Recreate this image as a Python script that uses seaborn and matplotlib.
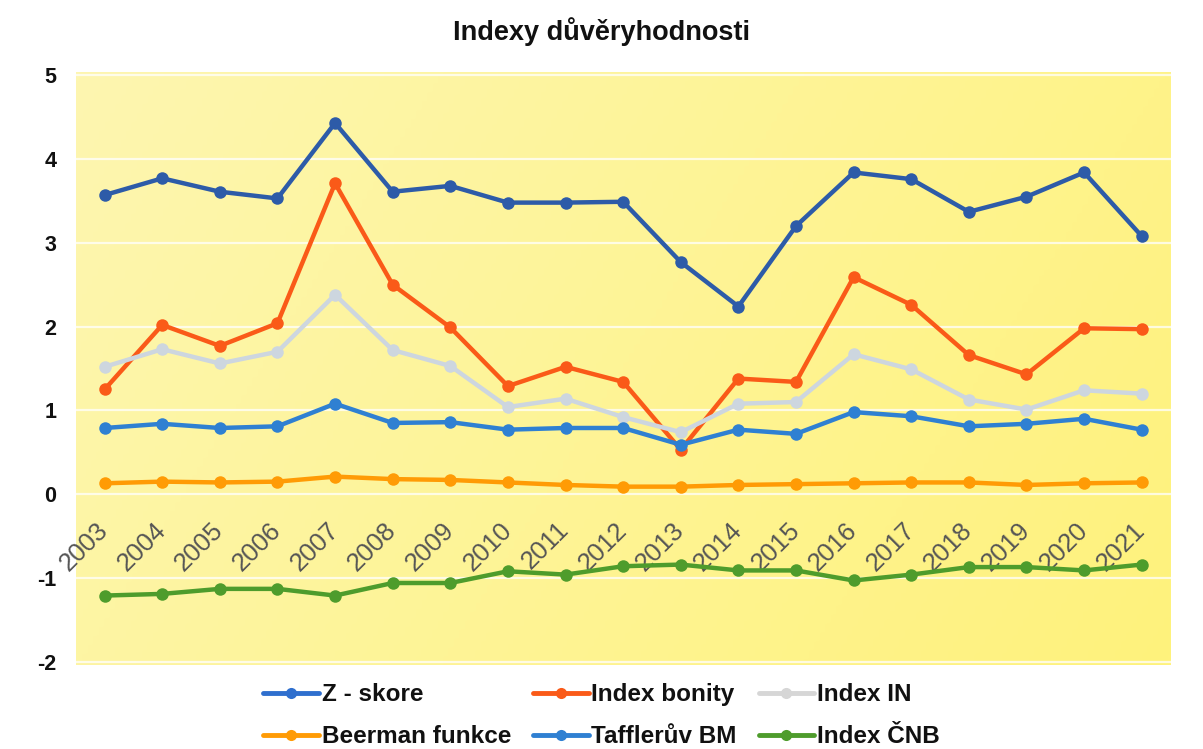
import numpy as np
import pandas as pd
import matplotlib
matplotlib.use("Agg")
import matplotlib.pyplot as plt
import seaborn as sns
from matplotlib.colors import LinearSegmentedColormap
from matplotlib.lines import Line2D

years = list(range(2003, 2022))
z_skore = [3.57, 3.77, 3.61, 3.53, 4.43, 3.61, 3.68, 3.48, 3.48, 3.49, 2.77, 2.24, 3.20, 3.84, 3.76, 3.37, 3.55, 3.84, 3.08]
index_bonity = [1.25, 2.02, 1.77, 2.04, 3.71, 2.50, 1.99, 1.29, 1.52, 1.34, 0.53, 1.38, 1.34, 2.59, 2.26, 1.66, 1.43, 1.98, 1.97]
index_in = [1.52, 1.73, 1.56, 1.70, 2.38, 1.72, 1.53, 1.04, 1.14, 0.92, 0.74, 1.08, 1.10, 1.67, 1.49, 1.13, 1.01, 1.24, 1.20]
beerman = [0.13, 0.15, 0.14, 0.15, 0.21, 0.18, 0.17, 0.14, 0.11, 0.09, 0.09, 0.11, 0.12, 0.13, 0.14, 0.14, 0.11, 0.13, 0.14]
taffler = [0.79, 0.84, 0.79, 0.81, 1.08, 0.85, 0.86, 0.77, 0.79, 0.79, 0.59, 0.77, 0.72, 0.98, 0.93, 0.81, 0.84, 0.90, 0.77]
index_cnb = [-1.21, -1.19, -1.13, -1.13, -1.21, -1.06, -1.06, -0.92, -0.96, -0.86, -0.84, -0.91, -0.91, -1.03, -0.96, -0.87, -0.87, -0.91, -0.84]

series_names = ["Z - skore", "Index bonity", "Index IN", "Beerman funkce", "Tafflerův BM", "Index ČNB"]
series_values = [z_skore, index_bonity, index_in, beerman, taffler, index_cnb]
line_colors = ["#2d5ba8", "#fa5a18", "#cdd6df", "#ff9b05", "#2f80d2", "#4e9c2c"]
legend_colors = ["#2f6fce", "#fa5a18", "#d6d6d6", "#ff9b05", "#2f80d2", "#4e9c2c"]

df = pd.DataFrame({
    "Rok": np.tile(years, len(series_names)),
    "Hodnota": np.concatenate(series_values),
    "Index": np.repeat(series_names, len(years)),
})

sns.set_theme(style="white")
plt.rcParams['font.family'] = ['Liberation Sans', 'DejaVu Sans']

fig = plt.figure(figsize=(12.03, 7.49), dpi=100)
ax = fig.add_axes([0.063, 0.112, 0.91, 0.792])

# yellow gradient background
cmap = LinearSegmentedColormap.from_list("yel", ["#fdf6b0", "#fff27c"])
gx, gy = np.meshgrid(np.linspace(0, 1, 200), np.linspace(0, 1, 200))
grad = 0.75 * gx + 0.25 * (1 - gy)
ax.imshow(grad, cmap=cmap, extent=[0, 1, 0, 1], transform=ax.transAxes,
          aspect="auto", zorder=0, origin="lower")

for v in range(-2, 6):
    ax.axhline(v, color="white", lw=1.6, alpha=0.75, zorder=1)

sns.lineplot(data=df, x="Rok", y="Hodnota", hue="Index", hue_order=series_names,
             palette=dict(zip(series_names, line_colors)), marker="o", markersize=9,
             markeredgewidth=0, linewidth=3.2, ax=ax, legend=False, zorder=3)

ax.spines['bottom'].set_position(('data', 0))
for s in ax.spines.values():
    s.set_visible(False)

ax.set_xlim(2002.5, 2021.5)
ax.set_ylim(-2.04, 5.04)
ax.set_yticks(range(-2, 6))
ax.set_yticklabels([str(v) for v in range(-2, 6)], fontsize=15.5, fontweight="bold", color="#111111")
ax.tick_params(axis="y", length=0, pad=14)
ax.set_xticks(years)
ax.set_xticklabels([str(y) for y in years], rotation=45, ha="right", va="center",
                   rotation_mode="anchor", fontsize=18.5, color="#555555")
ax.tick_params(axis="x", length=0, pad=23)
ax.set_xlabel("")
ax.set_ylabel("")
ax.grid(False)

fig.text(0.5, 0.958, "Indexy důvěryhodnosti", ha="center", va="center",
         fontsize=19.5, fontweight="bold", color="#111111")

handles = [Line2D([0], [0], color=c, lw=3.5, marker="o", markersize=8, markeredgewidth=0)
           for c in legend_colors]
order = [0, 3, 1, 4, 2, 5]
leg = fig.legend([handles[i] for i in order], [series_names[i] for i in order],
                 loc="upper center", bbox_to_anchor=(0.5, 0.114), ncol=3, frameon=False,
                 fontsize=17.5, handlelength=2.3, handletextpad=0.1, columnspacing=0.9,
                 labelspacing=0.78, borderpad=0.3)
for t in leg.get_texts():
    t.set_fontweight("bold")
    t.set_color("#111111")

fig.savefig("out.png", dpi=100, facecolor="white")
